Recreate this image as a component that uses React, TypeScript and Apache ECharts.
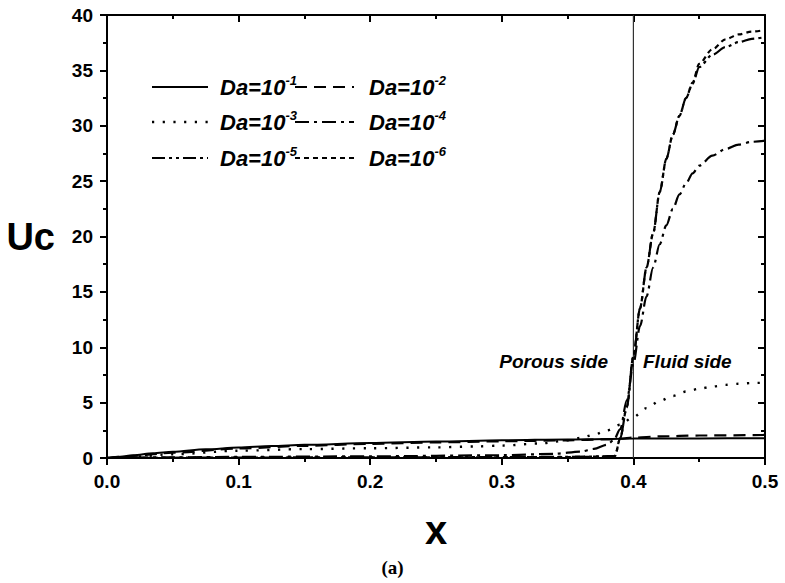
import React, { useEffect, useRef } from "react";
import * as echarts from "echarts";

// Centre-line velocity Uc along x for six Darcy numbers
const da1: [number, number][] = [
  [0, 0], [0.01, 0.12], [0.02, 0.25], [0.035, 0.42], [0.05, 0.56], [0.075, 0.78], [0.1, 0.95],
  [0.125, 1.08], [0.15, 1.19], [0.2, 1.36], [0.25, 1.49], [0.3, 1.6], [0.35, 1.68], [0.38, 1.72],
  [0.4, 1.75], [0.45, 1.77], [0.5, 1.78],
];
const da2: [number, number][] = [
  [0, 0], [0.02, 0.2], [0.05, 0.48], [0.1, 0.86], [0.15, 1.1], [0.2, 1.28], [0.25, 1.41],
  [0.3, 1.51], [0.35, 1.6], [0.38, 1.68], [0.39, 1.74], [0.4, 1.84], [0.42, 1.95], [0.45, 2.03],
  [0.5, 2.08],
];
const da3: [number, number][] = [
  [0, 0], [0.02, 0.12], [0.05, 0.34], [0.1, 0.66], [0.15, 0.8], [0.2, 0.88], [0.25, 0.96],
  [0.28, 1.04], [0.3, 1.12], [0.33, 1.32], [0.35, 1.6], [0.36, 1.82], [0.37, 2.1], [0.38, 2.5],
  [0.39, 3.0], [0.4, 3.7], [0.41, 4.5], [0.42, 5.15], [0.43, 5.6], [0.44, 6.0], [0.45, 6.25],
  [0.46, 6.45], [0.47, 6.6], [0.48, 6.7], [0.49, 6.77], [0.5, 6.8],
];
const da4: [number, number][] = [
  [0, 0], [0.05, 0.06], [0.1, 0.1], [0.2, 0.15], [0.3, 0.25], [0.34, 0.38], [0.36, 0.58],
  [0.37, 0.82], [0.38, 1.2], [0.385, 1.6], [0.39, 2.6], [0.395, 5.2], [0.4, 8.5], [0.405, 11.9],
  [0.41, 14.6], [0.415, 17.2], [0.42, 19.3], [0.425, 21], [0.43, 22.5], [0.435, 23.8],
  [0.44, 24.8], [0.445, 25.7], [0.45, 26.4], [0.46, 27.3], [0.47, 27.9], [0.48, 28.3],
  [0.49, 28.55], [0.5, 28.65],
];
const da5: [number, number][] = [
  [0, 0], [0.1, 0.04], [0.2, 0.06], [0.3, 0.08], [0.35, 0.1], [0.375, 0.14], [0.386, 0.2],
  [0.39, 1.8], [0.395, 4.6], [0.4, 9.2], [0.405, 13.5], [0.41, 17.2], [0.415, 20.3], [0.42, 24],
  [0.425, 27], [0.43, 29.2], [0.435, 30.9], [0.44, 32.5], [0.445, 33.8], [0.45, 35.3],
  [0.46, 36.4], [0.47, 37.1], [0.48, 37.55], [0.49, 37.85], [0.5, 38.0],
];
const da6: [number, number][] = [
  [0, 0], [0.1, 0.03], [0.2, 0.05], [0.3, 0.07], [0.35, 0.09], [0.375, 0.12], [0.386, 0.18],
  [0.39, 1.8], [0.395, 4.6], [0.4, 9.2], [0.405, 13.5], [0.41, 17.2], [0.415, 20.3], [0.42, 24],
  [0.425, 27], [0.43, 29.2], [0.435, 30.9], [0.44, 32.5], [0.445, 33.9], [0.45, 35.6],
  [0.46, 36.9], [0.47, 37.8], [0.48, 38.25], [0.49, 38.5], [0.5, 38.65],
];

// Porous / fluid interface
const interfaceLine: [number, number][] = [[0.4, 0], [0.4, 40]];

const exponents = ["-1", "-2", "-3", "-4", "-5", "-6"];
const curves = [da1, da2, da3, da4, da5, da6];

// dash patterns per curve
const dashes: (string | number[])[] = [
  "solid",
  [12, 7],
  [2.2, 8.5],
  [14, 5, 3, 5],
  [13, 4, 3, 4, 3, 4],
  [5, 4],
];
const widths = [2, 2.2, 2.4, 2.2, 2.2, 2.2];

const FONT = "'Liberation Sans', Arial, sans-serif";

export default function App() {
  const ref = useRef<HTMLDivElement>(null);

  useEffect(() => {
    if (!ref.current) return;
    const chart = echarts.init(ref.current, undefined, { renderer: "svg" });

    const axisCommon = {
      min: 0,
      axisLine: { show: true, onZero: false, lineStyle: { color: "#000", width: 2 } },
      splitLine: { show: false },
    };

    const series: any[] = curves.map((d, i) => ({
      name: "Da=10" + exponents[i],
      type: "line",
      data: d,
      symbol: "none",
      smooth: 0.3,
      smoothMonotone: "x",
      lineStyle: { color: "#000", width: widths[i], type: dashes[i], cap: "butt" },
      z: 3,
    }));
    series.push({
      name: "interface",
      type: "line",
      data: interfaceLine,
      symbol: "none",
      lineStyle: { color: "#333", width: 1.2 },
      z: 2,
    });

    chart.setOption({
      animation: false,
      backgroundColor: "#fff",
      grid: { left: 107, right: 20, top: 15, bottom: 125 },
      xAxis: [
        {
          ...axisCommon,
          type: "value",
          max: 0.5,
          interval: 0.1,
          position: "bottom",
          axisTick: { show: true, inside: false, length: 7, lineStyle: { color: "#000", width: 2 } },
          minorTick: { show: true, splitNumber: 2, length: 4, lineStyle: { color: "#000", width: 2 } },
          axisLabel: {
            color: "#000",
            fontFamily: FONT,
            fontWeight: "bold",
            fontSize: 19,
            margin: 14,
            formatter: (v: number) => v.toFixed(1),
          },
          name: "x",
          nameLocation: "middle",
          nameGap: 52,
          nameTextStyle: { color: "#000", fontFamily: FONT, fontWeight: "bold", fontSize: 40 },
        },
        {
          ...axisCommon,
          type: "value",
          max: 0.5,
          interval: 0.1,
          position: "top",
          axisTick: { show: true, inside: true, length: 7, lineStyle: { color: "#000", width: 2 } },
          minorTick: { show: true, splitNumber: 2, length: 4, lineStyle: { color: "#000", width: 2 } },
          axisLabel: { show: false },
        },
      ],
      yAxis: [
        {
          ...axisCommon,
          type: "value",
          max: 40,
          interval: 5,
          position: "left",
          axisTick: { show: true, inside: false, length: 7, lineStyle: { color: "#000", width: 2 } },
          minorTick: { show: true, splitNumber: 2, length: 4, lineStyle: { color: "#000", width: 2 } },
          axisLabel: {
            color: "#000",
            fontFamily: FONT,
            fontWeight: "bold",
            fontSize: 19,
            margin: 14,
          },
          name: "Uc",
          nameLocation: "middle",
          nameRotate: 0,
          nameGap: 52,
          nameTextStyle: {
            color: "#000",
            fontFamily: FONT,
            fontWeight: "bold",
            fontSize: 38,
            padding: [14, 0, 0, 0],
          },
        },
        {
          ...axisCommon,
          type: "value",
          max: 40,
          interval: 5,
          position: "right",
          axisTick: { show: true, inside: true, length: 7, lineStyle: { color: "#000", width: 2 } },
          minorTick: { show: true, splitNumber: 2, length: 4, lineStyle: { color: "#000", width: 2 } },
          axisLabel: { show: false },
        },
      ],
      series,
    });

    // legend and annotations
    const legendRows = [87, 122, 158];
    const sampleCols = [[152, 208], [295, 354]];
    const textCols = [220, 369];
    const graphic: any[] = [];
    curves.forEach((_, i) => {
      const row = Math.floor(i / 2);
      const col = i % 2;
      const y = legendRows[row];
      const [x1, x2] = sampleCols[col];
      graphic.push({
        type: "line",
        shape: { x1, y1: y, x2, y2: y },
        style: {
          stroke: "#000",
          lineWidth: widths[i],
          lineDash: dashes[i] === "solid" ? null : dashes[i],
        },
      });
      graphic.push({
        type: "text",
        x: textCols[col],
        y,
        style: {
          text: `{m|Da=10}{s|${exponents[i]}}`,
          verticalAlign: "middle",
          fill: "#000",
          rich: {
            m: {
              fontFamily: FONT,
              fontWeight: "bold",
              fontStyle: "italic",
              fontSize: 22,
              lineHeight: 26,
              fill: "#000",
            },
            s: {
              fontFamily: FONT,
              fontWeight: "bold",
              fontStyle: "italic",
              fontSize: 13,
              lineHeight: 13,
              verticalAlign: "top",
              fill: "#000",
            },
          },
        },
      });
    });

    const porous = chart.convertToPixel({ gridIndex: 0 }, [0.3807, 8.67]) as number[];
    const fluid = chart.convertToPixel({ gridIndex: 0 }, [0.4073, 8.67]) as number[];
    const annStyle = {
      fontFamily: FONT,
      fontWeight: "bold",
      fontStyle: "italic",
      fontSize: 19,
      fill: "#000",
      verticalAlign: "middle",
    };
    graphic.push({
      type: "text",
      x: porous[0],
      y: porous[1],
      style: { ...annStyle, text: "Porous side", align: "right" },
    });
    graphic.push({
      type: "text",
      x: fluid[0],
      y: fluid[1],
      style: { ...annStyle, text: "Fluid side", align: "left" },
    });
    graphic.push({
      type: "text",
      left: "center",
      top: 558,
      style: {
        text: "(a)",
        fontFamily: "'Liberation Serif', 'Times New Roman', serif",
        fontWeight: "bold",
        fontSize: 19,
        fill: "#000",
      },
    });

    chart.setOption({ graphic });

    return () => chart.dispose();
  }, []);

  return (
    <div
      ref={ref}
      style={{ position: "absolute", left: 0, top: 0, width: 785, height: 583 }}
    />
  );
}
